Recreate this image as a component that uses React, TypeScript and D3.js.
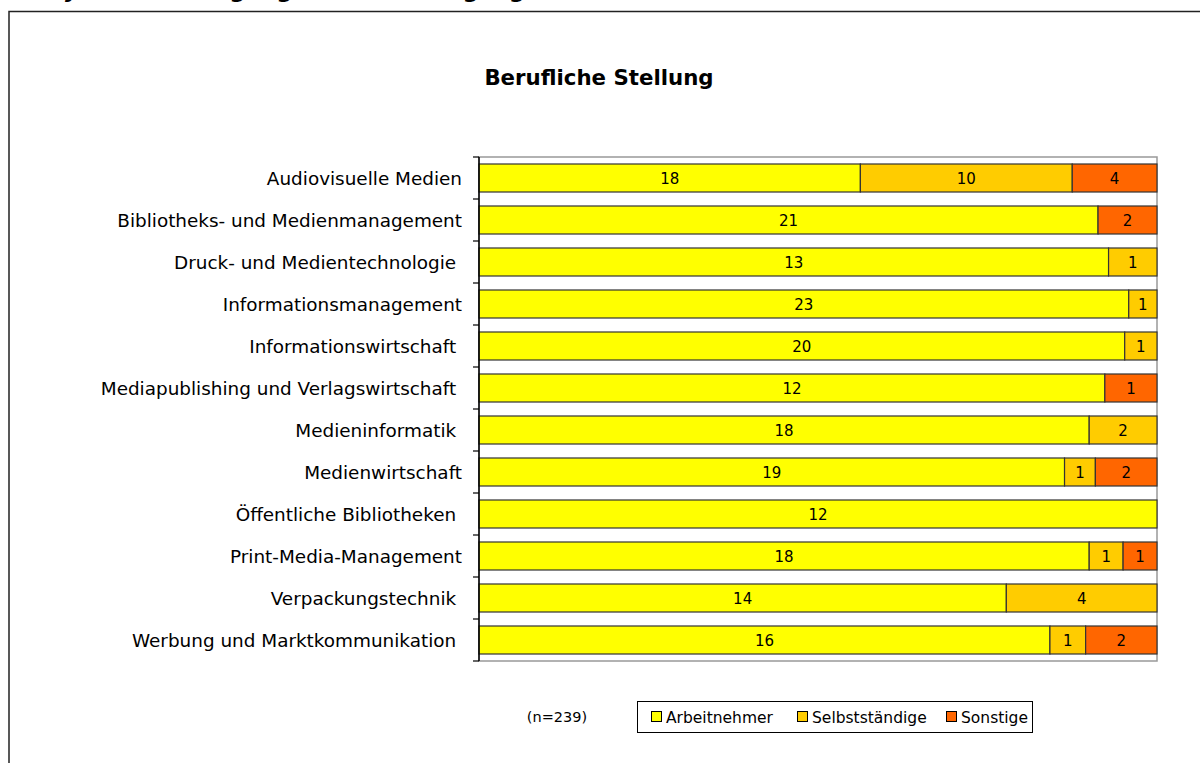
import React from "react";
import * as d3 from "d3";

const categories = [
  "Audiovisuelle Medien",
  "Bibliotheks- und Medienmanagement",
  "Druck- und Medientechnologie ",
  "Informationsmanagement",
  "Informationswirtschaft ",
  "Mediapublishing und Verlagswirtschaft ",
  "Medieninformatik ",
  "Medienwirtschaft",
  "Öffentliche Bibliotheken ",
  "Print-Media-Management",
  "Verpackungstechnik ",
  "Werbung und Marktkommunikation ",
];
const arbeitnehmer = [18, 21, 13, 23, 20, 12, 18, 19, 12, 18, 14, 16];
const selbststaendige = [10, 0, 1, 1, 1, 0, 2, 1, 0, 1, 4, 1];
const sonstige = [4, 2, 0, 0, 0, 1, 0, 2, 0, 1, 0, 2];
const seriesNames = ["Arbeitnehmer", "Selbstständige", "Sonstige"];
const seriesColors = ["#FFFF00", "#FFCC00", "#FF6600"];
const title = "Berufliche Stellung";
const note = "(n=239)";
const headerText = "Analyse der Befragung nach Studiengängen";

export default function App() {
  const W = 1200, H = 763;
  const left = 479, right = 1157, top = 157, bottom = 661;
  const font = "'DejaVu Sans', 'Open Sans', sans-serif";

  const rows = categories.map((c, i) => ({
    cat: c,
    vals: [arbeitnehmer[i], selbststaendige[i], sonstige[i]],
  }));
  const y = d3.scaleBand<number>().domain(d3.range(categories.length)).range([top, bottom]).paddingInner(1 / 3).paddingOuter(1 / 6);
  const yBoundary = d3.scaleLinear().domain([0, categories.length]).range([top, bottom]);
  const x = d3.scaleLinear().domain([0, 1]).range([left, right]);

  return (
    <svg width={W} height={H} style={{ position: "absolute", left: 0, top: 0, background: "#fff" }}>
      <text x={10} y={-2} fontFamily={font} fontSize={22} fontWeight="bold" fontStyle="italic" fill="#000">{headerText}</text>
      <path d={`M9,${H + 10} V11.5 H${W + 10}`} fill="none" stroke="#222" strokeWidth={1.5} />
      <text x={599} y={85} textAnchor="middle" fontFamily={font} fontSize={21.3} fontWeight="bold" fill="#000">{title}</text>
      {/* plot border */}
      <rect x={left} y={top} width={right - left} height={bottom - top} fill="none" stroke="#999" strokeWidth={1.5} />
      {rows.map((r, i) => {
        const total = d3.sum(r.vals);
        let acc = 0;
        const by = y(i)!;
        return (
          <g key={i}>
            {r.vals.map((v, k) => {
              if (v === 0) return null;
              const x0 = x(acc / total);
              acc += v;
              const x1 = x(acc / total);
              return (
                <g key={k}>
                  <rect x={x0} y={by} width={x1 - x0} height={y.bandwidth()} fill={seriesColors[k]} stroke="#333" strokeWidth={1.2} />
                  <text x={(x0 + x1) / 2} y={by + y.bandwidth() / 2 + 5.5} textAnchor="middle" fontFamily={font} fontSize={15} fill="#000">{v}</text>
                </g>
              );
            })}
            <text x={462} y={by + y.bandwidth() / 2 + 6.5} textAnchor="end" fontFamily={font} fontSize={18.4} fill="#000" style={{ whiteSpace: "pre" }}>{r.cat}</text>
          </g>
        );
      })}
      {/* axis */}
      <line x1={left} x2={left} y1={top} y2={bottom} stroke="#000" strokeWidth={1.5} />
      {d3.range(categories.length + 1).map((i) => (
        <line key={i} x1={left - 6} x2={left} y1={yBoundary(i)} y2={yBoundary(i)} stroke="#000" strokeWidth={1.2} />
      ))}
      <text x={557} y={722} textAnchor="middle" fontFamily={font} fontSize={14.5} fill="#000">{note}</text>
      <g>
        <rect x={637.5} y={701.5} width={395} height={31} fill="#fff" stroke="#000" strokeWidth={1} />
        {seriesNames.map((s, k) => {
          const xs = [651, 797, 946][k];
          return (
            <g key={s}>
              <rect x={xs + 0.5} y={711.5} width={10} height={10} fill={seriesColors[k]} stroke="#000" strokeWidth={1} />
              <text x={xs + 15} y={723} fontFamily={font} fontSize={15.5} fill="#000">{s}</text>
            </g>
          );
        })}
      </g>
    </svg>
  );
}
